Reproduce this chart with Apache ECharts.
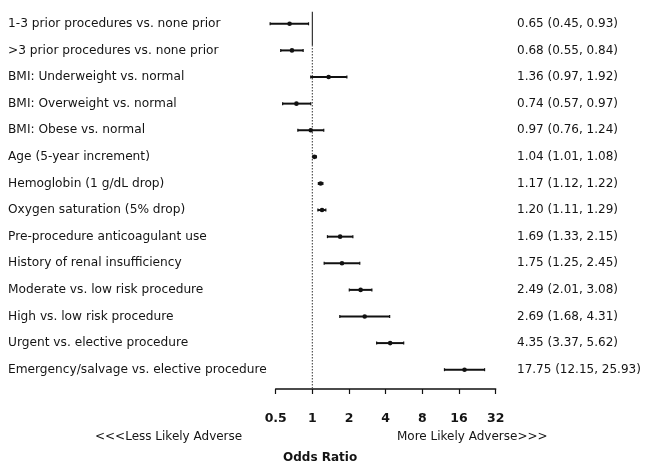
<!DOCTYPE html>
<html>
<head>
<meta charset="utf-8">
<script src="https://cdn.jsdelivr.net/npm/echarts@6/dist/echarts.min.js"></script>
<style>html,body{margin:0;padding:0;background:#fff;}#chart{width:645px;height:468px;}</style>
</head>
<body>
<div id="chart"></div>
<script>
var labels = [
  '1-3 prior procedures vs. none prior',
  '>3 prior procedures vs. none prior',
  'BMI: Underweight vs. normal',
  'BMI: Overweight vs. normal',
  'BMI: Obese vs. normal',
  'Age (5-year increment)',
  'Hemoglobin (1 g/dL drop)',
  'Oxygen saturation (5% drop)',
  'Pre-procedure anticoagulant use',
  'History of renal insufficiency',
  'Moderate vs. low risk procedure',
  'High vs. low risk procedure',
  'Urgent vs. elective procedure',
  'Emergency/salvage vs. elective procedure'
];
var oddsRatio = [0.65, 0.68, 1.36, 0.74, 0.97, 1.04, 1.17, 1.20, 1.69, 1.75, 2.49, 2.69, 4.35, 17.75];
var ciLow     = [0.45, 0.55, 0.97, 0.57, 0.76, 1.01, 1.12, 1.11, 1.33, 1.25, 2.01, 1.68, 3.37, 12.15];
var ciHigh    = [0.93, 0.84, 1.92, 0.97, 1.24, 1.08, 1.22, 1.29, 2.15, 2.45, 3.08, 4.31, 5.62, 25.93];
var xTicks = [0.5, 1, 2, 4, 8, 16, 32];

var FONT = '"DejaVu Sans", Verdana, sans-serif';
var TXT = '#141414';

function orText(i) {
  return oddsRatio[i].toFixed(2) + ' (' + ciLow[i].toFixed(2) + ', ' + ciHigh[i].toFixed(2) + ')';
}

var forestData = labels.map(function (l, i) { return [oddsRatio[i], i, ciLow[i], ciHigh[i]]; });

var chart = echarts.init(document.getElementById('chart'), null, {renderer: 'canvas'});
chart.setOption({
  animation: false,
  backgroundColor: '#fff',
  grid: {left: 275.7, right: 149.3, top: 10.5, bottom: 85},
  xAxis: {
    type: 'log', logBase: 2, min: xTicks[0], max: xTicks[xTicks.length - 1],
    splitNumber: 6,
    position: 'bottom', offset: 6,
    axisLine: {show: true, lineStyle: {color: '#111', width: 1.5}},
    axisTick: {show: true, length: 5, lineStyle: {color: '#111', width: 1.2}},
    minorTick: {show: false},
    splitLine: {show: false},
    axisLabel: {color: TXT, fontSize: 12.5, fontWeight: 'bold', fontFamily: FONT, margin: 23,
      formatter: function (v) { return String(v); }}
  },
  yAxis: [{
    type: 'category', data: labels, inverse: true,
    axisLine: {show: false}, axisTick: {show: false}, splitLine: {show: false},
    axisLabel: {align: 'left', margin: 267.7, color: TXT, fontSize: 12.2, fontFamily: FONT}
  }, {
    type: 'category', data: labels, inverse: true, position: 'right',
    axisLine: {show: false}, axisTick: {show: false}, splitLine: {show: false},
    axisLabel: {align: 'left', margin: 21.3, color: TXT, fontSize: 12, fontFamily: FONT,
      formatter: function (v, i) { return orText(i); }}
  }],
  series: [{
    type: 'custom',
    data: [[1]],
    renderItem: function (params, api) {
      var band = api.size([0, 1])[1];
      var top = api.coord([api.value(0), 0]);
      var bot = api.coord([api.value(0), labels.length - 1]);
      var y0 = top[1] - band * 0.45;
      var yMid = top[1] + band * 0.8;
      var y1 = bot[1] + band * 0.5 + 6;
      return {type: 'group', children: [
        {type: 'line', shape: {x1: top[0], y1: y0, x2: top[0], y2: yMid},
          style: {stroke: '#333', lineWidth: 1.2}},
        {type: 'line', shape: {x1: top[0], y1: yMid, x2: top[0], y2: y1},
          style: {stroke: '#555', lineWidth: 1.2, lineDash: [1.5, 1.5]}}
      ]};
    },
    silent: true, z: 1
  }, {
    type: 'custom',
    data: forestData,
    encode: {x: [0, 2, 3], y: 1},
    renderItem: function (params, api) {
      var p = api.coord([api.value(0), api.value(1)]);
      var a = api.coord([api.value(2), api.value(1)]);
      var b = api.coord([api.value(3), api.value(1)]);
      return {type: 'group', children: [
        {type: 'line', shape: {x1: a[0], y1: a[1], x2: b[0], y2: b[1]},
          style: {stroke: '#111', lineWidth: 2}},
        {type: 'line', shape: {x1: a[0], y1: a[1] - 1.5, x2: a[0], y2: a[1] + 1.5},
          style: {stroke: '#111', lineWidth: 1.2}},
        {type: 'line', shape: {x1: b[0], y1: b[1] - 1.5, x2: b[0], y2: b[1] + 1.5},
          style: {stroke: '#111', lineWidth: 1.2}},
        {type: 'circle', shape: {cx: p[0], cy: p[1], r: 2.3}, style: {fill: '#111'}}
      ]};
    },
    silent: true, z: 2
  }],
  graphic: [
    {type: 'text', left: 95, top: 431, style: {text: '<<<Less Likely Adverse', fill: TXT, font: '12px ' + FONT}},
    {type: 'text', left: 397, top: 431, style: {text: 'More Likely Adverse>>>', fill: TXT, font: '12px ' + FONT}},
    {type: 'text', left: 283, top: 452, style: {text: 'Odds Ratio', fill: TXT, font: 'bold 12px ' + FONT}}
  ]
});
</script>
</body>
</html>
